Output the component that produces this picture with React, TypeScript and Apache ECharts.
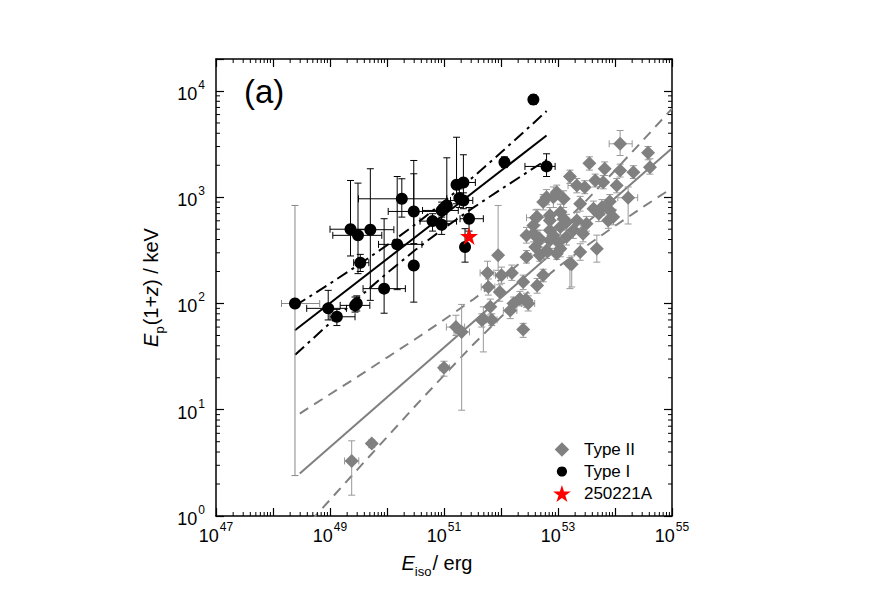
import React, { useEffect, useRef } from 'react';
import * as echarts from 'echarts';

const FONT = '"Liberation Sans", Arial, Helvetica, sans-serif';

// [Eiso (erg), Ep(1+z) (keV), Ep low, Ep high, Eiso low, Eiso high]  (0 = no bar)
const typeI: number[][] = [
  [2.43e48, 100, 2.4, 837, 1.41e48, 6.6e48],
  [9.3e48, 90, 70, 133, 3.9e48, 1.95e49],
  [1.32e49, 75, 62, 88, 1.0e49, 2.75e49],
  [2.75e49, 96, 83, 115, 1.51e49, 5.0e49],
  [2.95e49, 100, 85, 118, 0, 0],
  [2.29e49, 500, 280, 1438, 1.0e49, 4.4e49],
  [3.1e49, 438, 191, 1358, 1.12e49, 8.1e49],
  [3.4e49, 242, 200, 290, 2.6e49, 4.8e49],
  [5.1e49, 495, 107, 1854, 2.24e49, 1.32e50],
  [8.9e49, 138, 81, 628, 3.8e49, 2.1e50],
  [1.51e50, 360, 135, 1567, 7.1e49, 4.1e50],
  [1.82e50, 967, 650, 1492, 3.16e49, 1.12e51],
  [2.95e50, 735, 366, 2218, 1.05e50, 1.12e51],
  [2.95e50, 228, 103, 1663, 0, 0],
  [6.3e50, 596, 480, 700, 3.8e50, 1.66e51],
  [9.1e50, 751, 600, 900, 4.2e50, 1.78e51],
  [9.1e50, 551, 447, 650, 0, 0],
  [1.12e51, 837, 564, 2350, 0, 0],
  [1.66e51, 1310, 868, 3670, 0, 0],
  [2.19e51, 1377, 1000, 2510, 1.58e51, 3.55e51],
  [1.86e51, 981, 800, 1200, 0, 0],
  [2.19e51, 933, 780, 1100, 1.3e51, 3.2e51],
  [2.75e51, 628, 480, 800, 1.91e51, 4.9e51],
  [2.34e51, 340, 245, 506, 0, 0],
  [1.15e52, 2137, 1900, 2400, 0, 0],
  [6.3e52, 1950, 1567, 2564, 2.63e52, 8.9e52],
  [3.7e52, 8300, 7500, 9200, 0, 0],
];

const typeII: number[][] = [
  [2.4e49, 3.3, 1.57, 5.1, 1.8e49, 3.2e49],
  [5.4e49, 4.8, 4.4, 5.2, 0, 0],
  [1.0e51, 24.8, 20.7, 28.6, 8.5e50, 1.25e51],
  [1.62e51, 60, 50, 77.5, 1.1e51, 2.3e51],
  [2.04e51, 54, 9.9, 98, 1.5e51, 2.8e51],
  [4.6e51, 70, 60, 80, 0, 0],
  [4.9e51, 72, 35, 93, 0, 0],
  [6.9e51, 70, 62, 80, 5.5e51, 8.5e51],
  [5.8e51, 194, 150, 250, 4.3e51, 7.5e51],
  [1.02e52, 184, 155, 220, 8.0e51, 1.3e52],
  [1.55e52, 194, 165, 230, 0, 0],
  [6.0e51, 143, 120, 170, 4.5e51, 7.8e51],
  [9.5e51, 128, 105, 150, 0, 0],
  [2.45e52, 159, 135, 185, 0, 0],
  [2.14e52, 111, 95, 130, 0, 0],
  [3.0e52, 100, 85, 118, 2.3e52, 3.9e52],
  [1.66e52, 100, 85, 115, 0, 0],
  [1.45e52, 86, 72, 100, 1.1e52, 1.9e52],
  [4.3e52, 148, 125, 172, 0, 0],
  [5.5e52, 184, 160, 210, 0, 0],
  [6.5e51, 93, 78, 110, 0, 0],
  [2.45e52, 57, 48, 65, 0, 0],
  [8.9e51, 284, 205, 837, 0, 0],
  [2.8e52, 274, 240, 315, 0, 0],
  [4.8e52, 284, 250, 320, 0, 0],
  [9.5e52, 294, 260, 330, 0, 0],
  [1.62e53, 237, 138, 270, 0, 0],
  [2.8e52, 107, 92, 125, 0, 0],
  [4.3e52, 422, 360, 490, 0, 0],
  [7.2e52, 393, 330, 470, 0, 0],
  [1.23e54, 3184, 2470, 4250, 7.9e53, 2.0e54],
  [3.8e54, 2620, 2250, 3000, 0, 0],
  [4.1e54, 1919, 1650, 2300, 0, 0],
  [3.55e53, 2090, 1800, 2400, 0, 0],
  [6.6e53, 1853, 1600, 2150, 0, 0],
  [1.23e54, 1786, 1550, 2050, 0, 0],
  [2.1e54, 1722, 1500, 1980, 0, 0],
  [1.62e53, 1568, 1350, 1800, 0, 0],
  [4.5e53, 1439, 1250, 1650, 0, 0],
  [6.2e53, 1387, 1200, 1600, 0, 0],
  [1.07e54, 1290, 1100, 1500, 0, 0],
  [2.14e53, 1290, 1100, 1500, 1.5e53, 3.0e53],
  [2.95e53, 1244, 1080, 1430, 0, 0],
  [8.3e52, 1002, 800, 1250, 0, 0],
  [1.26e53, 968, 800, 1150, 0, 0],
  [2.45e53, 869, 740, 1020, 0, 0],
  [1.7e54, 989, 560, 1250, 1.12e54, 2.5e54],
  [5.9e53, 807, 680, 950, 0, 0],
  [8.1e53, 751, 640, 880, 0, 0],
  [4.2e53, 780, 660, 920, 0, 0],
  [4.1e52, 642, 540, 760, 2.8e52, 6.0e52],
  [7.2e52, 605, 510, 720, 0, 0],
  [1.26e53, 628, 530, 740, 0, 0],
  [2.14e53, 605, 510, 720, 0, 0],
  [3.16e53, 564, 480, 660, 0, 0],
  [9.3e53, 650, 550, 770, 0, 0],
  [7.2e52, 488, 410, 580, 0, 0],
  [1.1e53, 524, 440, 620, 0, 0],
  [1.86e53, 488, 410, 580, 0, 0],
  [2.75e53, 454, 380, 540, 0, 0],
  [4.8e52, 407, 340, 490, 0, 0],
  [1.0e53, 380, 320, 450, 0, 0],
  [1.41e53, 422, 355, 500, 0, 0],
  [4.0e52, 340, 285, 405, 0, 0],
  [6.3e52, 316, 265, 375, 0, 0],
  [1.1e53, 328, 275, 390, 0, 0],
  [2.45e53, 305, 255, 365, 0, 0],
  [4.8e53, 328, 245, 440, 0, 0],
  [8.1e53, 912, 780, 1060, 0, 0],
  [5.2e53, 700, 590, 830, 0, 0],
  [7.6e53, 605, 510, 720, 0, 0],
  [1.1e53, 724, 610, 860, 0, 0],
  [1.41e53, 583, 490, 690, 0, 0],
  [6.3e52, 1000, 850, 1180, 0, 0],
  [9.5e52, 1117, 950, 1300, 0, 0],
  [4.3e52, 650, 550, 770, 0, 0],
  [3.7e52, 454, 380, 540, 0, 0],
  [8.3e52, 437, 370, 520, 0, 0],
  [3.7e52, 543, 460, 640, 0, 0],
  [2.8e52, 437, 370, 520, 0, 0],
  [7.2e52, 676, 570, 800, 0, 0],
  [5.5e52, 900, 760, 1060, 0, 0],
  [1.74e53, 234, 143, 280, 0, 0],
];

const grb250221A: number[][] = [[2.75e51, 431]];

// Fitted relations and their bands
const typeIFit: number[][] = [[2.43e48, 56], [6.3e52, 3810]];
const typeIBandE = [2.45e48, 1e49, 3.16e49, 1e50, 3.16e50, 1e51, 3.16e51, 1e52, 3.16e52, 6.3e52];
const typeIBandUpper = [95.3, 154, 231, 353, 556, 908, 1531, 2636, 4603, 6471];
const typeIBandLower = [32.9, 65.5, 113, 193, 320, 511, 789, 1189, 1774, 2244];

const typeIIFit: number[][] = [[2.95e48, 2.51], [1e55, 2884]];
const typeIIBandE = [2.95e48, 1e49, 3.16e49, 1e50, 3.16e50, 1e51, 3.16e51, 1e52, 3.16e52, 1e53, 3.16e53, 1e54, 3.16e54, 1e55];
const typeIIBandUpper = [9.2, 14.0, 20.7, 31.0, 46.3, 70.3, 108, 171, 286, 505, 935, 1786, 3475, 6820];
const typeIIBandLower = [0.685, 1.42, 2.81, 5.53, 10.9, 21.1, 40.4, 74.8, 132, 220, 349, 537, 815, 1219];

const xDecades = [47, 48, 49, 50, 51, 52, 53, 54];
const yDecades = [0, 1, 2, 3, 4];
const minorMultipliers = [2, 3, 4, 5, 6, 7, 8, 9];
const X_MIN = 1e47, X_MAX = 1e55, Y_MIN = 1, Y_MAX = 2e4;

const STAR = 'path://M50,0 L61.2,34.5 L97.6,34.5 L68.2,55.9 L79.4,90.5 L50,69.1 L20.6,90.5 L31.8,55.9 L2.4,34.5 L38.8,34.5 Z';
const LEGEND_CIRCLE = 'path://M0,0 M20,20 M10,4 A6,6 0 1 1 9.99,4 Z';
const LEGEND_DIAMOND = 'path://M0,0 M20,20 M10,1.5 L18.5,10 L10,18.5 L1.5,10 Z';

const zip = (xs: number[], ys: number[]) => xs.map((x, i) => [x, ys[i]]);

function powLabel(v: number) {
  const e = Math.log10(v);
  const r = Math.round(e);
  if (Math.abs(e - r) > 1e-6) return '';
  return r;
}

function makeErr(color: string, special?: number, specialColor?: string) {
  return (params: any, api: any) => {
    const x = api.value(0), y = api.value(1);
    const ylo = api.value(2), yhi = api.value(3), xlo = api.value(4), xhi = api.value(5);
    const c = params.dataIndex === special ? specialColor : color;
    const st = { stroke: c, lineWidth: 1 };
    const cap = 3.5;
    const ch: any[] = [];
    if (ylo > 0 && yhi > 0) {
      const a = api.coord([x, ylo]), b = api.coord([x, yhi]);
      ch.push({ type: 'line', shape: { x1: a[0], y1: a[1], x2: b[0], y2: b[1] }, style: st });
      ch.push({ type: 'line', shape: { x1: a[0] - cap, y1: a[1], x2: a[0] + cap, y2: a[1] }, style: st });
      ch.push({ type: 'line', shape: { x1: b[0] - cap, y1: b[1], x2: b[0] + cap, y2: b[1] }, style: st });
    }
    if (xlo > 0 && xhi > 0) {
      const a = api.coord([xlo, y]), b = api.coord([xhi, y]);
      ch.push({ type: 'line', shape: { x1: a[0], y1: a[1], x2: b[0], y2: b[1] }, style: st });
      ch.push({ type: 'line', shape: { x1: a[0], y1: a[1] - cap, x2: a[0], y2: a[1] + cap }, style: st });
      ch.push({ type: 'line', shape: { x1: b[0], y1: b[1] - cap, x2: b[0], y2: b[1] + cap }, style: st });
    }
    return { type: 'group', children: ch };
  };
}

function minorTicks(params: any, api: any) {
  const cs = params.coordSys;
  const left = cs.x, right = cs.x + cs.width, top = cs.y, bottom = cs.y + cs.height;
  const st = { stroke: '#000', lineWidth: 1 };
  const L = 4;
  const ch: any[] = [];
  for (const n of xDecades) {
    for (const k of minorMultipliers) {
      const px = api.coord([k * Math.pow(10, n), 100])[0];
      ch.push({ type: 'line', shape: { x1: px, y1: bottom, x2: px, y2: bottom - L }, style: st });
      ch.push({ type: 'line', shape: { x1: px, y1: top, x2: px, y2: top + L }, style: st });
    }
  }
  for (const n of yDecades) {
    for (const k of minorMultipliers) {
      const v = k * Math.pow(10, n);
      if (v >= Y_MAX) continue;
      const py = api.coord([1e51, v])[1];
      ch.push({ type: 'line', shape: { x1: left, y1: py, x2: left + L, y2: py }, style: st });
      ch.push({ type: 'line', shape: { x1: right, y1: py, x2: right - L, y2: py }, style: st });
    }
  }
  return { type: 'group', children: ch };
}

const tickRich = {
  b: { fontSize: 18, fontFamily: FONT, color: '#000', padding: [6, 0, 0, 0], verticalAlign: 'bottom' },
  s: { fontSize: 12, fontFamily: FONT, color: '#000', verticalAlign: 'top', padding: [0, 0, 0, 1] },
};

const nameRich = {
  i: { fontSize: 20, fontStyle: 'italic', fontFamily: FONT, color: '#000', padding: [0, 0, 5, 0], verticalAlign: 'top' },
  sub: { fontSize: 13, fontFamily: FONT, color: '#000', verticalAlign: 'bottom', padding: [0, 1, 0, 0] },
  n: { fontSize: 20, fontFamily: FONT, color: '#000', padding: [0, 0, 5, 0], verticalAlign: 'top' },
};

const axisCommon = {
  type: 'log',
  logBase: 10,
  splitLine: { show: false },
  axisLine: { show: true, onZero: false, lineStyle: { color: '#000', width: 1.5 } },
  axisTick: { show: true, inside: true, length: 8, lineStyle: { color: '#000', width: 1.2 } },
};

export default function App() {
  const ref = useRef<HTMLDivElement>(null);
  useEffect(() => {
    if (!ref.current) return;
    const chart = echarts.init(ref.current, undefined, { renderer: 'svg' });
    const option: any = {
      animation: false,
      backgroundColor: '#fff',
      grid: { left: 216, top: 59, right: 208, bottom: 96, containLabel: false },
      xAxis: [
        {
          ...axisCommon,
          min: X_MIN,
          max: X_MAX,
          position: 'bottom',
          axisLabel: {
            margin: 5,
            formatter: (v: number) => {
              const e = powLabel(v);
              if (e === '' || (e as number) % 2 !== 1) return '';
              return `{b|10}{s|${e}}`;
            },
            rich: tickRich,
          },
          name: '{i|E}{sub|iso}{n|/ erg}',
          nameLocation: 'middle',
          nameGap: 37,
          nameTextStyle: { padding: [0, 14, 0, 0], rich: nameRich },
        },
        { ...axisCommon, min: X_MIN, max: X_MAX, position: 'top', axisLabel: { show: false } },
      ],
      yAxis: [
        {
          ...axisCommon,
          min: Y_MIN,
          max: Y_MAX,
          position: 'left',
          axisLabel: {
            margin: 11,
            formatter: (v: number) => {
              const e = powLabel(v);
              if (e === '') return '';
              return `{b|10}{s|${e}}`;
            },
            rich: tickRich,
          },
          name: '{i|E}{sub|p}{n|(1+}{i|z}{n|) / keV}',
          nameLocation: 'middle',
          nameRotate: 90,
          nameGap: 40,
          nameTextStyle: { rich: nameRich },
        },
        { ...axisCommon, min: Y_MIN, max: Y_MAX, position: 'right', axisLabel: { show: false } },
      ],
      legend: {
        orient: 'vertical',
        left: 548,
        top: 436,
        itemWidth: 34,
        itemHeight: 17,
        itemGap: 5,
        selectedMode: false,
        textStyle: { fontSize: 17, fontFamily: FONT, color: '#000' },
        data: [
          { name: 'Type II', icon: LEGEND_DIAMOND },
          { name: 'Type I', icon: LEGEND_CIRCLE },
          { name: '250221A', icon: STAR },
        ],
      },
      graphic: [
        {
          type: 'text',
          left: 244,
          top: 75,
          z: 100,
          style: { text: '(a)', font: `33px ${FONT}`, fill: '#000' },
        },
      ],
      series: [
        { type: 'line', name: 'fitII', data: typeIIFit, showSymbol: false, symbol: 'none', z: 1, silent: true,
          lineStyle: { color: '#808080', width: 2 } },
        { type: 'line', name: 'bandIIu', data: zip(typeIIBandE, typeIIBandUpper), showSymbol: false, symbol: 'none', z: 1, silent: true,
          lineStyle: { color: '#808080', width: 2, type: [10, 7] } },
        { type: 'line', name: 'bandIIl', data: zip(typeIIBandE, typeIIBandLower), showSymbol: false, symbol: 'none', z: 1, silent: true,
          lineStyle: { color: '#808080', width: 2, type: [10, 7] } },
        { type: 'line', name: 'fitI', data: typeIFit, showSymbol: false, symbol: 'none', z: 1, silent: true,
          lineStyle: { color: '#000', width: 2 } },
        { type: 'line', name: 'bandIu', data: zip(typeIBandE, typeIBandUpper), showSymbol: false, symbol: 'none', z: 1, silent: true,
          lineStyle: { color: '#000', width: 2, type: [12, 5, 3, 5] } },
        { type: 'line', name: 'bandIl', data: zip(typeIBandE, typeIBandLower), showSymbol: false, symbol: 'none', z: 1, silent: true,
          lineStyle: { color: '#000', width: 2, type: [12, 5, 3, 5] } },
        { type: 'custom', name: 'errII', data: typeII, encode: { x: 0, y: 1 }, renderItem: makeErr('#999999'), z: 2, silent: true },
        { type: 'custom', name: 'errI', data: typeI, encode: { x: 0, y: 1 }, renderItem: makeErr('#000000', 0, '#888888'), z: 3, silent: true },
        { type: 'scatter', name: 'Type II', data: typeII.map((d) => [d[0], d[1]]), symbol: 'diamond', symbolSize: 14,
          itemStyle: { color: '#808080', opacity: 1 }, z: 4, silent: true },
        { type: 'scatter', name: 'Type I', data: typeI.map((d) => [d[0], d[1]]), symbol: 'circle', symbolSize: 12,
          itemStyle: { color: '#000', opacity: 1 }, z: 5, silent: true },
        { type: 'scatter', name: '250221A', data: grb250221A, symbol: STAR, symbolSize: 18,
          itemStyle: { color: '#ff0000', opacity: 1 }, z: 6, silent: true },
        { type: 'custom', name: 'minorTicks', data: [[1e51, 100]], encode: { x: 0, y: 1 }, renderItem: minorTicks, z: 10, silent: true },
      ],
    };
    chart.setOption(option);
    return () => chart.dispose();
  }, []);
  return <div ref={ref} style={{ position: 'fixed', left: 0, top: 0, width: 880, height: 612, background: '#fff' }} />;
}
